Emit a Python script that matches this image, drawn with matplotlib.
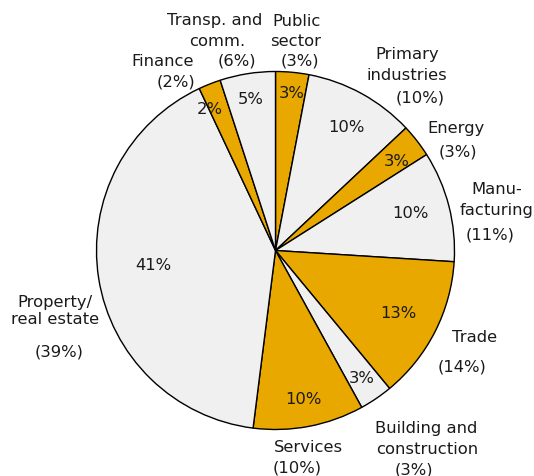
import matplotlib.pyplot as plt

# sectors, clockwise from 12 o'clock
sectors = ["Public sector", "Primary industries", "Energy", "Manufacturing", "Trade",
           "Building and construction", "Services", "Property/real estate", "Finance",
           "Transp. and comm."]
shares = [3, 10, 3, 10, 13, 3, 10, 41, 2, 5]          # inner values (%)
compare = [3, 10, 3, 11, 14, 3, 10, 39, 2, 6]         # values in brackets (%)

ORANGE = "#E9A800"
GREY = "#F0F0F0"
colors = [ORANGE if i % 2 == 0 else GREY for i in range(len(shares))]

# pixel layout (y measured from top of image)
W, H = 534, 477
cx, cy, r = 275.5, 251.5, 179

inner_pos = [(292, 94), (346, 128), (397, 162), (410, 214), (398, 313),
             (362, 379), (303, 400), (153, 265), (210, 110), (251, 100)]

# outer label lines: (text, x, y)
outer = [
    ("Public", 297, 21), ("sector", 296, 42), ("(%d%%)" % compare[0], 300, 61),
    ("Primary", 407, 55), ("industries", 407, 76), ("(%d%%)" % compare[1], 420, 98),
    ("Energy", 456, 129), ("(%d%%)" % compare[2], 458, 152),
    ("Manu-", 497, 189), ("facturing", 497, 211), ("(%d%%)" % compare[3], 490, 235),
    ("Trade", 475, 337), ("(%d%%)" % compare[4], 462, 367),
    ("Building and", 426, 429), ("construction", 427, 450), ("(%d%%)" % compare[5], 414, 470),
    ("Services", 308, 448), ("(%d%%)" % compare[6], 297, 468),
    ("Property/", 55, 302), ("real estate", 55, 320), ("(%d%%)" % compare[7], 59, 352),
    ("Finance", 163, 62), ("(%d%%)" % compare[8], 176, 82),
    ("Transp. and", 215, 21), ("comm.", 217, 42), ("(%d%%)" % compare[9], 237, 61),
]

fig = plt.figure(figsize=(W / 100, H / 100), dpi=100)
ax = fig.add_axes([0, 0, 1, 1])

ax.pie(shares, colors=colors, startangle=90, counterclock=False,
       center=(cx, H - cy), radius=r, frame=True,
       wedgeprops=dict(edgecolor="black", linewidth=1.0))
ax.set_xlim(0, W)
ax.set_ylim(0, H)
ax.set_aspect("auto")
ax.axis("off")

fs = 11.8
for v, (x, y) in zip(shares, inner_pos):
    ax.text(x, H - y, "%d%%" % v, ha="center", va="center", fontsize=fs, color="#1a1a1a")

for s, x, y in outer:
    ax.text(x, H - y, s, ha="center", va="center", fontsize=fs, color="#1a1a1a")

fig.savefig("out.png", dpi=100)
